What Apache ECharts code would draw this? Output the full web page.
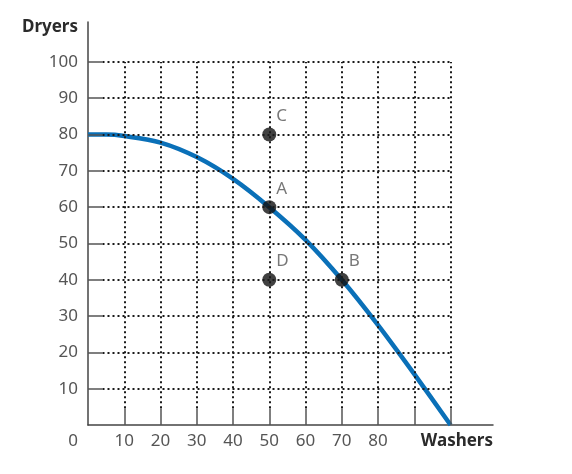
<!DOCTYPE html>
<html>
<head>
<meta charset="utf-8">
<script src="https://cdn.jsdelivr.net/npm/echarts@6/dist/echarts.min.js"></script>
<style>
  html, body { margin: 0; padding: 0; background: #fff; }
  #chart { width: 572px; height: 474px; }
</style>
</head>
<body>
<div id="chart"></div>
<script>
// PPF data
const curveX = [0, 5, 10, 20, 30, 40, 50, 60, 70, 80, 90, 100];
const curveY = [80, 80, 79.6, 77.8, 73.8, 67.8, 60, 51, 40, 27.5, 14, 0];
const pointNames = ['C', 'A', 'D', 'B'];
const pointX = [50, 50, 50, 70];
const pointY = [80, 60, 40, 40];
const gridValues = [10, 20, 30, 40, 50, 60, 70, 80, 90, 100];
const xLabels = [0, 10, 20, 30, 40, 50, 60, 70, 80];
const yLabels = [10, 20, 30, 40, 50, 60, 70, 80, 90, 100];

const textFont = 'Noto Sans';
const chart = echarts.init(document.getElementById('chart'));

// dotted grid + short solid ticks, drawn in data space
const gridLines = [];
const tickLines = [];
gridValues.forEach(v => {
    gridLines.push([{ coord: [4, v] }, { coord: [100, v] }]);
    gridLines.push([{ coord: [v, 4.6] }, { coord: [v, 100] }]);
    tickLines.push([{ coord: [0, v] }, { coord: [4, v] }]);
    tickLines.push([{ coord: [v, 0] }, { coord: [v, 4.6] }]);
});

const option = {
    animation: false,
    grid: { left: 88, right: 79, top: 22, bottom: 49 },
    xAxis: {
        type: 'value', min: 0, max: 111.7, interval: 10,
        name: 'Washers', nameLocation: 'end', nameGap: 0,
        nameTextStyle: {
            fontFamily: textFont, fontSize: 17, fontWeight: 'bold', color: '#2b2b2b',
            align: 'right', verticalAlign: 'top', padding: [8, 0, 0, 0]
        },
        axisLine: { lineStyle: { color: '#444', width: 1.5 } },
        axisTick: { show: false },
        splitLine: { show: false },
        axisLabel: {
            margin: 8, fontFamily: textFont, fontSize: 17, color: '#555',
            showMaxLabel: false,
            formatter: v => {
                if (v === 0) return '{z|0}';
                return xLabels.includes(v) ? String(v) : '';
            },
            rich: { z: { fontFamily: textFont, fontSize: 17, color: '#555', padding: [0, 30, 0, 0] } }
        }
    },
    yAxis: {
        type: 'value', min: 0, max: 111, interval: 10,
        name: 'Dryers', nameLocation: 'end', nameGap: -5,
        nameTextStyle: {
            fontFamily: textFont, fontSize: 17, fontWeight: 'bold', color: '#2b2b2b',
            align: 'right', verticalAlign: 'middle', padding: [0, 10, 0, 0]
        },
        axisLine: { show: true, lineStyle: { color: '#444', width: 1.5 } },
        axisTick: { show: false },
        splitLine: { show: false },
        axisLabel: {
            margin: 10, fontFamily: textFont, fontSize: 17, color: '#555',
            showMaxLabel: false,
            formatter: v => (yLabels.includes(v) ? String(v) : '')
        }
    },
    series: [
        {
            type: 'line', data: [], z: 1, silent: true,
            markLine: {
                silent: true, symbol: 'none', label: { show: false },
                lineStyle: { color: '#1a1a1a', width: 2, type: [2, 3] },
                data: gridLines
            }
        },
        {
            type: 'line', data: [], z: 1, silent: true,
            markLine: {
                silent: true, symbol: 'none', label: { show: false },
                lineStyle: { color: '#555', width: 1.5, type: 'solid' },
                data: tickLines
            }
        },
        {
            type: 'line', z: 3,
            data: curveX.map((x, i) => [x, curveY[i]]),
            smooth: 0.3, showSymbol: false,
            lineStyle: { color: '#0a70b8', width: 4.5 }
        },
        {
            type: 'scatter', z: 4,
            data: pointX.map((x, i) => ({ name: pointNames[i], value: [x, pointY[i]] })),
            symbolSize: 14,
            itemStyle: { color: '#111' },
            label: {
                show: true, formatter: p => p.name, position: [14, -20],
                fontFamily: textFont, fontSize: 17, color: '#555'
            }
        }
    ]
};

chart.setOption(option);
window.addEventListener('resize', () => chart.resize());
</script>
</body>
</html>
